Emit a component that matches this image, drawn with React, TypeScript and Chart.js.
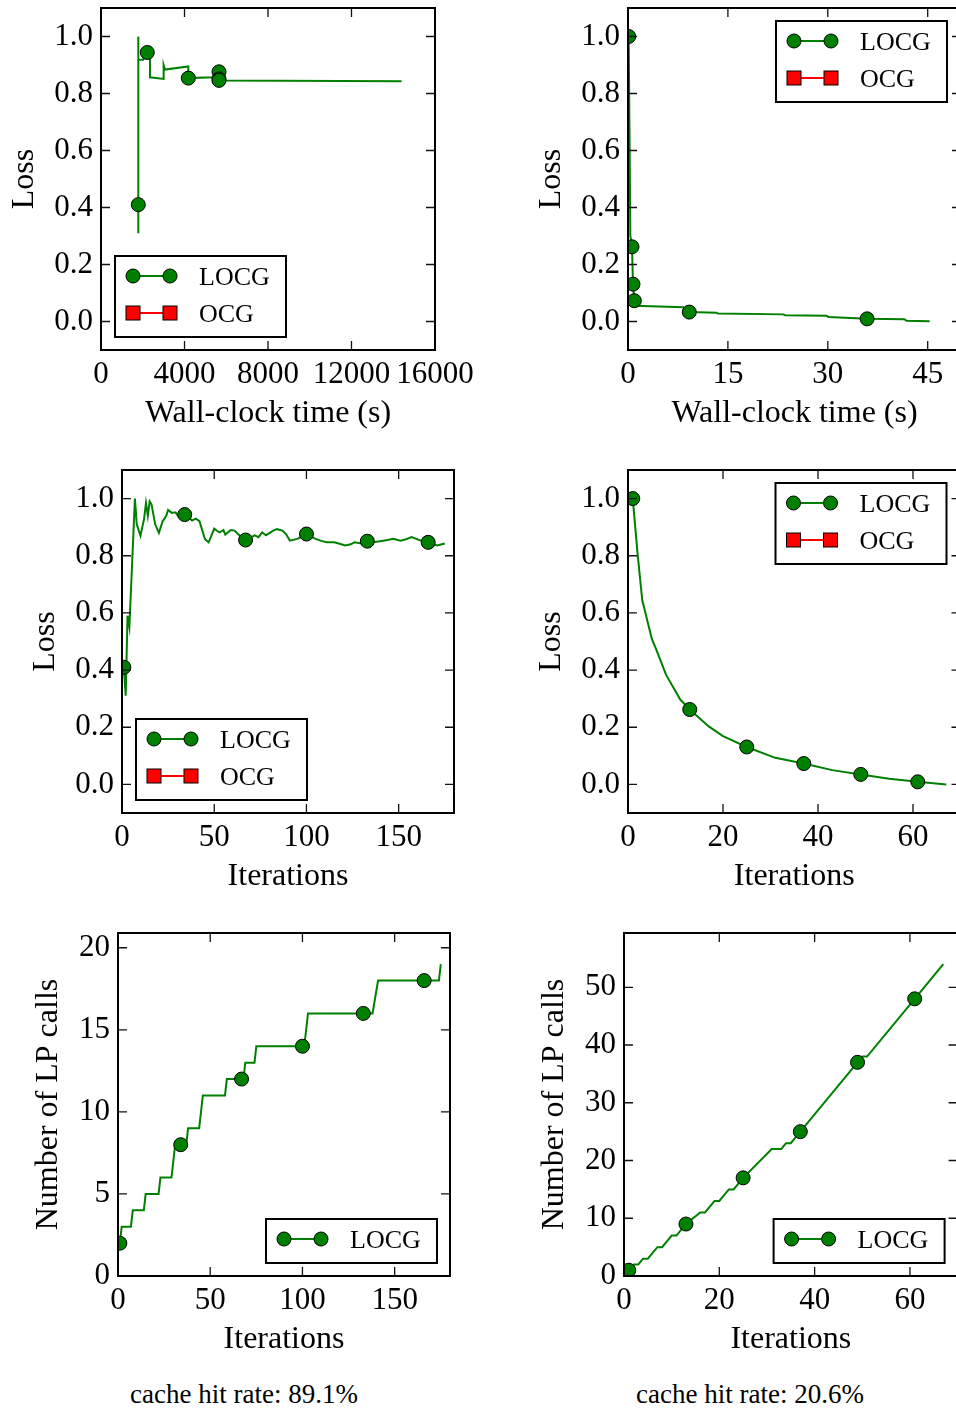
import React, { useEffect, useRef } from "react";
import { Chart, registerables } from "chart.js";
Chart.register(...registerables);

const FONT = "'Liberation Serif', 'Times New Roman', Times, serif";
const GREEN = "#008000";
const RED = "#ff0000";

// ---------- Data ----------
// Top-left: loss vs wall-clock time (s)
const tlTime = [1787, 1787, 1787, 1787, 2012, 2218, 2347, 2347, 3000, 3000, 3066, 4182, 4182, 4182, 5380, 5652, 5652, 5652, 14400];
const tlLoss = [0.41, 0.31, 1.0, 0.918, 0.918, 0.944, 0.924, 0.857, 0.851, 0.9, 0.884, 0.895, 0.877, 0.854, 0.857, 0.876, 0.851, 0.846, 0.843];
const tlMarks = [0, 5, 13, 15, 16, 17];

// Top-right: loss vs wall-clock time (s)
const trTime = [0.1, 0.25, 0.35, 0.6, 0.75, 0.95, 1.0, 8.3, 8.6, 9.2, 13.3, 13.5, 23.3, 23.6, 29.8, 30.1, 35.9, 41.5, 41.8, 45.3];
const trLoss = [1.0, 0.6, 0.3, 0.262, 0.131, 0.073, 0.055, 0.05, 0.037, 0.033, 0.031, 0.028, 0.025, 0.022, 0.02, 0.016, 0.0093, 0.008, 0.003, 0.001];
const trMarks = [0, 3, 4, 5, 9, 16];

// Middle-left: loss vs iterations
const mlIter = [1, 2, 3, 4, 7, 8, 10, 12, 13, 14, 15, 16, 18, 20, 22, 24, 25, 27, 29, 31, 34, 36, 38, 40, 42, 45, 47, 50, 52, 53, 55, 56, 58, 59, 61, 63, 67, 70, 72, 74, 76, 78, 79, 82, 84, 87, 89, 91, 95, 97, 100, 103, 105, 108, 111, 115, 118, 121, 124, 126, 130, 133, 137, 140, 144, 147, 151, 154, 157, 162, 166, 171, 175];
const mlLoss = [0.41, 0.31, 0.59, 0.55, 1.0, 0.91, 0.87, 0.93, 0.985, 0.94, 0.99, 0.98, 0.91, 0.88, 0.92, 0.94, 0.96, 0.95, 0.952, 0.934, 0.944, 0.935, 0.923, 0.93, 0.921, 0.858, 0.847, 0.895, 0.885, 0.882, 0.89, 0.874, 0.885, 0.89, 0.888, 0.875, 0.855, 0.865, 0.871, 0.865, 0.882, 0.872, 0.876, 0.888, 0.893, 0.888, 0.875, 0.853, 0.859, 0.865, 0.876, 0.865, 0.859, 0.852, 0.847, 0.847, 0.842, 0.836, 0.84, 0.847, 0.843, 0.851, 0.848, 0.851, 0.855, 0.859, 0.853, 0.858, 0.865, 0.853, 0.847, 0.836, 0.843];
const leftMarkIters = [1, 34, 67, 100, 133, 166];

// Middle-right: loss vs iterations
const mrIter = [1, 2, 3, 5, 6, 8, 11, 13, 17, 20, 25, 31, 37, 43, 49, 55, 61, 67];
const mrLoss = [1.0, 0.81, 0.645, 0.51, 0.47, 0.384, 0.297, 0.262, 0.203, 0.169, 0.131, 0.093, 0.073, 0.05, 0.035, 0.02, 0.009, 0.0];
const rightMarkIters = [1, 13, 25, 37, 49, 61];

// Bottom-left: number of LP calls vs iterations
const blIter = [1, 2, 7, 8, 14, 15, 22, 23, 29, 31, 34, 37, 38, 44, 46, 58, 59, 67, 68, 69, 74, 75, 100, 101, 103, 133, 138, 141, 166, 174, 175];
const blCalls = [2, 3, 3, 4, 4, 5, 5, 6, 6, 8, 8, 8, 9, 9, 11, 11, 12, 12, 12, 13, 13, 14, 14, 14, 16, 16, 16, 18, 18, 18, 19];

// Bottom-right: number of LP calls vs iterations
const brIter = [1, 2, 3, 4, 5, 7, 8, 10, 11, 13, 16, 17, 19, 20, 22, 23, 25, 31, 33, 34, 35, 37, 49, 50, 51, 61, 67];
const brCalls = [1, 2, 2, 3, 3, 5, 5, 7, 7, 9, 11, 11, 13, 13, 15, 15, 17, 22, 22, 23, 23, 25, 37, 38, 38, 48, 54];

// Tick values
const lossTicks = [0, 0.2, 0.4, 0.6, 0.8, 1.0];
const tlXTicks = [0, 4000, 8000, 12000, 16000];
const trXTicks = [0, 15, 30, 45];
const leftIterTicks = [0, 50, 100, 150];
const rightIterTicks = [0, 20, 40, 60];
const blYTicks = [0, 5, 10, 15, 20];
const brYTicks = [0, 10, 20, 30, 40, 50];

const cacheTexts = ["cache hit rate: 89.1%", "cache hit rate: 20.6%"];

type Spec = {
  canvas: { left: number; top: number; w: number; h: number };
  box: { l: number; t: number; r: number; b: number };
  xMin: number; xMax: number; xTicks: number[];
  yMin: number; yMax: number; yTicks: number[]; yDec: number;
  xTitle: string; yTitle: string; yTitleGap: number;
  xs: number[]; ys: number[]; marks: number[];
  legendCorner: "ll" | "ur" | "lr"; legendLabels: string[];
};

const idxOf = (arr: number[], vals: number[]) => vals.map((v) => arr.indexOf(v)).filter((i) => i >= 0);

const specs: Spec[] = [
  {
    canvas: { left: 0, top: 0, w: 480, h: 445 }, box: { l: 101, t: 7, r: 435, b: 350 },
    xMin: 0, xMax: 16000, xTicks: tlXTicks, yMin: -0.1, yMax: 1.1, yTicks: lossTicks, yDec: 1,
    xTitle: "Wall-clock time (s)", yTitle: "Loss", yTitleGap: 76,
    xs: tlTime, ys: tlLoss, marks: tlMarks, legendCorner: "ll", legendLabels: ["LOCG", "OCG"],
  },
  {
    canvas: { left: 480, top: 0, w: 520, h: 445 }, box: { l: 628, t: 7, r: 961, b: 350 },
    xMin: 0, xMax: 50, xTicks: trXTicks, yMin: -0.1, yMax: 1.1, yTicks: lossTicks, yDec: 1,
    xTitle: "Wall-clock time (s)", yTitle: "Loss", yTitleGap: 76,
    xs: trTime, ys: trLoss, marks: trMarks, legendCorner: "ur", legendLabels: ["LOCG", "OCG"],
  },
  {
    canvas: { left: 0, top: 460, w: 480, h: 445 }, box: { l: 122, t: 470, r: 454, b: 813 },
    xMin: 0, xMax: 180, xTicks: leftIterTicks, yMin: -0.1, yMax: 1.1, yTicks: lossTicks, yDec: 1,
    xTitle: "Iterations", yTitle: "Loss", yTitleGap: 76,
    xs: mlIter, ys: mlLoss, marks: idxOf(mlIter, leftMarkIters), legendCorner: "ll", legendLabels: ["LOCG", "OCG"],
  },
  {
    canvas: { left: 480, top: 460, w: 520, h: 445 }, box: { l: 628, t: 470, r: 960.5, b: 813 },
    xMin: 0, xMax: 70, xTicks: rightIterTicks, yMin: -0.1, yMax: 1.1, yTicks: lossTicks, yDec: 1,
    xTitle: "Iterations", yTitle: "Loss", yTitleGap: 76,
    xs: mrIter, ys: mrLoss, marks: idxOf(mrIter, rightMarkIters), legendCorner: "ur", legendLabels: ["LOCG", "OCG"],
  },
  {
    canvas: { left: 0, top: 920, w: 480, h: 445 }, box: { l: 118, t: 933, r: 450, b: 1276 },
    xMin: 0, xMax: 180, xTicks: leftIterTicks, yMin: 0, yMax: 20.9, yTicks: blYTicks, yDec: 0,
    xTitle: "Iterations", yTitle: "Number of LP calls", yTitleGap: 69,
    xs: blIter, ys: blCalls, marks: idxOf(blIter, leftMarkIters), legendCorner: "lr", legendLabels: ["LOCG"],
  },
  {
    canvas: { left: 480, top: 920, w: 520, h: 445 }, box: { l: 624, t: 933, r: 957.6, b: 1276 },
    xMin: 0, xMax: 70, xTicks: rightIterTicks, yMin: 0, yMax: 59.4, yTicks: brYTicks, yDec: 0,
    xTitle: "Iterations", yTitle: "Number of LP calls", yTitleGap: 69,
    xs: brIter, ys: brCalls, marks: idxOf(brIter, rightMarkIters), legendCorner: "lr", legendLabels: ["LOCG"],
  },
];

function Panel({ spec }: { spec: Spec }) {
  const ref = useRef<HTMLCanvasElement>(null);
  const cv = spec.canvas;
  useEffect(() => {
    const s = spec;
    const bx = s.box;
    const tickFont = { family: FONT, size: 31, lineHeight: 1.2 };
    const titleFont = { family: FONT, size: 32, lineHeight: 1.2 };
    const titleLH = 32 * 1.2;
    const yAxisW = bx.l - cv.left;
    const xAxisH = cv.top + cv.h - bx.b;
    const yTitlePadTop = bx.l - s.yTitleGap - cv.left - titleLH / 2;
    const xTitlePadBottom = cv.top + cv.h - (bx.b + 64) - titleLH / 2;
    const markSet = new Set(s.marks);
    const data = s.xs.map((x, i) => ({ x, y: s.ys[i] }));

    const frame = {
      id: "mplFrame",
      afterDraw(chart: any) {
        const ctx = chart.ctx;
        const ca = chart.chartArea;
        const xs = chart.scales.x;
        const ys = chart.scales.y;
        const TL = 9;
        ctx.save();
        ctx.strokeStyle = "#111";
        ctx.lineWidth = 1.3;
        ctx.beginPath();
        for (const t of xs.ticks) {
          const px = xs.getPixelForValue(t.value);
          if (px < ca.left - 0.5 || px > ca.right + 0.5) continue;
          ctx.moveTo(px, ca.bottom); ctx.lineTo(px, ca.bottom - TL);
          ctx.moveTo(px, ca.top); ctx.lineTo(px, ca.top + TL);
        }
        for (const t of ys.ticks) {
          const py = ys.getPixelForValue(t.value);
          if (py < ca.top - 0.5 || py > ca.bottom + 0.5) continue;
          ctx.moveTo(ca.left, py); ctx.lineTo(ca.left + TL, py);
          ctx.moveTo(ca.right, py); ctx.lineTo(ca.right - TL, py);
        }
        ctx.stroke();
        ctx.strokeStyle = "#000";
        ctx.lineWidth = 2;
        ctx.strokeRect(ca.left, ca.top, ca.right - ca.left, ca.bottom - ca.top);

        // legend
        const labels = s.legendLabels;
        const w = 171;
        const h = 44 + 37 * (labels.length - 1);
        let lx = ca.left + 14;
        let ly = ca.bottom - 13 - h;
        if (s.legendCorner === "ur") { lx = ca.right - 14 - w; ly = ca.top + 13; }
        if (s.legendCorner === "lr") { lx = ca.right - 13 - w; ly = ca.bottom - 13 - h; }
        ctx.fillStyle = "#fff";
        ctx.fillRect(lx, ly, w, h);
        ctx.lineWidth = 2;
        ctx.strokeStyle = "#000";
        ctx.strokeRect(lx, ly, w, h);
        labels.forEach((lab, i) => {
          const ey = ly + 20 + 37 * i;
          const x1 = lx + 18, x2 = lx + 55;
          const col = lab === "OCG" ? RED : GREEN;
          ctx.strokeStyle = col;
          ctx.lineWidth = 2;
          ctx.beginPath(); ctx.moveTo(x1, ey); ctx.lineTo(x2, ey); ctx.stroke();
          for (const mx of [x1, x2]) {
            ctx.fillStyle = col;
            ctx.strokeStyle = "#000";
            ctx.lineWidth = 1;
            if (lab === "OCG") {
              ctx.fillRect(mx - 7, ey - 7, 14, 14);
              ctx.strokeRect(mx - 7, ey - 7, 14, 14);
            } else {
              ctx.beginPath(); ctx.arc(mx, ey, 7, 0, Math.PI * 2); ctx.fill(); ctx.stroke();
            }
          }
          ctx.fillStyle = "#000";
          ctx.font = `26px ${FONT}`;
          ctx.textBaseline = "middle";
          ctx.textAlign = "left";
          ctx.fillText(lab, lx + 84, ey + 2);
        });
        ctx.restore();
      },
    };

    const datasets: any[] = [
      {
        label: "LOCG", data, showLine: true, borderColor: GREEN, borderWidth: 2,
        backgroundColor: GREEN, pointBackgroundColor: GREEN, pointBorderColor: "#000", pointBorderWidth: 1,
        pointRadius: (c: any) => (markSet.has(c.dataIndex) ? 7 : 0),
        pointHoverRadius: (c: any) => (markSet.has(c.dataIndex) ? 7 : 0),
        tension: 0, fill: false,
      },
    ];
    if (s.legendLabels.includes("OCG")) {
      datasets.push({ label: "OCG", data: [], showLine: true, borderColor: RED, backgroundColor: RED, pointStyle: "rect" });
    }

    const fmtY = (v: any) => Number(v).toFixed(s.yDec);
    const chart = new Chart(ref.current as HTMLCanvasElement, {
      type: "scatter",
      data: { datasets },
      options: {
        responsive: false, maintainAspectRatio: false, animation: false, events: [], devicePixelRatio: 1,
        layout: { padding: { left: 0, top: bx.t - cv.top, right: cv.left + cv.w - bx.r, bottom: 0 } },
        plugins: { legend: { display: false }, tooltip: { enabled: false } },
        scales: {
          x: {
            type: "linear", min: s.xMin, max: s.xMax,
            afterBuildTicks: (sc: any) => { sc.ticks = s.xTicks.map((v) => ({ value: v })); },
            afterFit: (sc: any) => { sc.height = xAxisH; sc.paddingLeft = 0; sc.paddingRight = 0; sc.paddingTop = 0; sc.paddingBottom = 0; },
            ticks: { autoSkip: false, maxRotation: 0, minRotation: 0, padding: 6, font: tickFont, color: "#000", callback: (v: any) => String(v) },
            grid: { display: false, drawTicks: false }, border: { display: false },
            title: { display: true, text: s.xTitle, font: titleFont, color: "#000", padding: { top: 0, bottom: xTitlePadBottom } },
          },
          y: {
            type: "linear", min: s.yMin, max: s.yMax,
            afterBuildTicks: (sc: any) => { sc.ticks = s.yTicks.map((v) => ({ value: v })); },
            afterFit: (sc: any) => { sc.width = yAxisW; sc.paddingLeft = 0; sc.paddingRight = 0; sc.paddingTop = 0; sc.paddingBottom = 0; },
            ticks: { autoSkip: false, padding: 8, font: tickFont, color: "#000", callback: fmtY },
            grid: { display: false, drawTicks: false }, border: { display: false },
            title: { display: true, text: s.yTitle, font: titleFont, color: "#000", padding: { top: yTitlePadTop, bottom: 0 } },
          },
        },
      } as any,
      plugins: [frame as any],
    });
    return () => chart.destroy();
  }, []);
  return (
    <canvas
      ref={ref}
      width={cv.w}
      height={cv.h}
      style={{ position: "absolute", left: cv.left, top: cv.top, width: cv.w, height: cv.h }}
    />
  );
}

export default function App() {
  return (
    <div style={{ position: "absolute", left: 0, top: 0, width: 956, height: 1409, overflow: "hidden", background: "#fff" }}>
      {specs.map((s, i) => (
        <Panel key={i} spec={s} />
      ))}
      {cacheTexts.map((t, i) => (
        <div
          key={t}
          style={{
            position: "absolute", left: i === 0 ? 130 : 636, top: 1379, fontFamily: FONT,
            fontSize: 27, lineHeight: "30px", color: "#000", whiteSpace: "nowrap",
          }}
        >
          {t}
        </div>
      ))}
    </div>
  );
}
